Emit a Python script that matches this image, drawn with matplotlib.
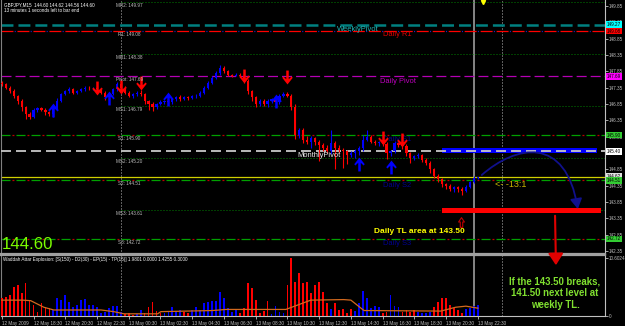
import matplotlib
matplotlib.use("Agg")
import matplotlib.pyplot as plt
from matplotlib.path import Path
from matplotlib.patches import FancyArrowPatch, Rectangle
import numpy as np

plt.rcParams['font.family'] = ['Liberation Sans', 'DejaVu Sans']
plt.rcParams['lines.scale_dashes'] = False

W, H = 625, 326

# ---- values ----
symbol_info = "GBPJPY,M15  144.60 144.62 144.56 144.60"
timer_info = "13 minutes 1 seconds left to bar end"
last_price = "144.60"

first_open = 147.50
close = [147.45, 147.35, 147.25, 147.10, 146.95, 146.75, 146.55, 146.45, 146.65, 146.72,
         146.68, 146.60, 146.55, 146.70, 146.95, 147.15, 147.25, 147.30, 147.20, 147.25,
         147.30, 147.35, 147.33, 147.35, 147.30, 147.20, 147.05, 147.15, 147.30, 147.45,
         147.35, 147.20, 147.10, 147.15, 147.20, 147.15, 146.95, 146.85, 146.75, 146.85,
         146.90, 146.95, 146.90, 147.00, 147.05, 147.00, 147.05, 147.02, 147.08, 147.10,
         147.20, 147.35, 147.50, 147.65, 147.80, 147.95, 147.85, 147.75, 147.72, 147.75,
         147.70, 147.55, 147.25, 147.05, 146.85, 146.95, 146.85, 146.95, 147.00, 146.90,
         147.10, 147.15, 147.10, 146.75, 145.90, 146.05, 145.75, 145.70, 145.80, 145.70,
         145.60, 145.50, 145.40, 145.65, 145.50, 145.45, 145.40, 145.30, 145.35, 145.40,
         145.50, 145.75, 145.85, 145.70, 145.65, 145.68, 145.62, 145.35, 145.40, 145.65,
         145.60, 145.55, 145.35, 145.20, 145.25, 145.30, 145.15, 145.05, 144.85, 144.65,
         144.55, 144.40, 144.35, 144.25, 144.30, 144.25, 144.20, 144.32, 144.45, 144.60,
         144.60]
# wick lengths in pips above / below the body
wick_up = [4, 4, 6, 5, 3, 5, 4, 6, 8, 5,
           4, 5, 3, 6, 8, 5, 4, 6, 5, 3,
           4, 5, 4, 3, 6, 5, 4, 3, 5, 6,
           4, 5, 4, 3, 5, 8, 4, 3, 5, 4,
           6, 3, 5, 4, 3, 6, 4, 5, 3, 4,
           5, 6, 4, 5, 6, 8, 5, 4, 3, 5,
           4, 6, 5, 3, 4, 6, 5, 4, 3, 5,
           4, 6, 8, 5, 10, 6, 5, 12, 6, 4,
           5, 6, 8, 40, 6, 10, 5, 4, 6, 8,
           6, 15, 20, 6, 4, 5, 6, 8, 5, 6,
           5, 4, 6, 4, 5, 4, 3, 5, 6, 4,
           5, 4, 3, 5, 4, 3, 5, 4, 3, 5,
           2]
wick_dn = [5, 5, 6, 8, 10, 12, 15, 5, 4, 6,
           5, 8, 6, 10, 4, 5, 3, 6, 5, 4,
           3, 5, 6, 4, 5, 6, 8, 4, 3, 5,
           6, 5, 4, 6, 5, 6, 10, 20, 12, 6,
           4, 5, 6, 4, 5, 6, 4, 5, 3, 4,
           3, 4, 5, 3, 4, 5, 6, 5, 4, 3,
           4, 5, 10, 12, 8, 6, 5, 8, 6, 10,
           4, 5, 4, 10, 12, 8, 10, 6, 20, 10,
           50, 10, 6, 8, 65, 10, 50, 30, 8, 15,
           12, 8, 4, 5, 6, 8, 6, 18, 10, 5,
           6, 8, 10, 15, 6, 5, 8, 6, 10, 8,
           10, 8, 10, 6, 8, 10, 12, 5, 4, 3,
           4]

sell_bars = [24, 30, 35, 61, 72, 96, 101]
sell_price = [147.34, 147.37, 147.49, 147.71, 147.68, 145.81, 145.75]
buy_bars = [13, 27, 42, 69, 90, 98]
buy_price = [146.67, 147.03, 147.00, 146.94, 145.01, 144.92]

# Waddah Attar Explosion: + trend up (blue), - trend down (red)
wae = [-3.3, -3.5, -3.8, -5.3, -5.7, -4.2, -6.0, -2.9, -2.0, -0.7,
       -2.4, -1.6, -1.5, 1.1, 3.3, 2.9, 3.8, 2.6, 1.6, 2.0,
       2.9, 3.1, 2.0, 2.0, 1.6, 0.5, 0.7, 1.5, 1.8, 1.8,
       0.7, -0.4, -0.5, -0.2, 0.4, 1.1, -0.5, -1.6, -2.6, -0.9,
       -0.5, 0.5, 0.7, 1.6, 0.9, 1.1, -0.7, -0.5, 1.1, 1.6,
       1.1, 2.4, 2.6, 2.7, 2.7, 4.4, 3.3, 1.5, 0.7, 1.1,
       -0.5, -1.5, -6.0, -5.1, -2.9, -0.5, -0.9, -2.7, 0.4, 1.8,
       0.7, 0.5, -5.7, -10.6, -6.2, -7.9, -6.0, -6.2, -4.2, -5.7,
       -6.2, -4.4, -2.4, 1.3, -2.4, -1.1, -1.3, -0.5, -1.3, 0.9,
       2.4, 4.6, 3.3, 1.5, 1.8, 1.6, -0.5, -0.7, 3.8, 1.8,
       1.6, -0.7, -1.1, -0.7, -1.1, 0.7, 0.5, 0.5, 0.7, -1.6,
       -2.6, -3.3, -3.3, -2.0, -1.5, -1.1, -0.5, 1.3, 1.5, 1.8,
       1.98]
wae_line_bar = [0, 5.3, 7.3, 10.6, 13.1, 25, 28.2, 30.8, 39.3, 40.1, 53.2, 56.5,
                71.6, 77.9, 86.2, 88, 91.3, 110.7, 114.4, 117, 120]
wae_line_val = [2.9, 2.9, 2.8, 1.6, 1.1, 1.1, 0.8, 0.4, 0.4, 0.8, 1.0, 1.2,
                1.2, 2.9, 3.0, 2.9, 1.0, 0.9, 1.6, 1.8, 1.43]
wae_title = ("Waddah Attar Explosion: [S(150) - D2(30) - EP(15) - TP(15)] "
             "1.9801 0.0000 1.4255 0.3000")

time_labels = ['12 May 2009', '12 May 18:30', '12 May 20:30', '12 May 22:30',
               '13 May 00:30', '13 May 02:30', '13 May 04:30', '13 May 06:30',
               '13 May 08:30', '13 May 10:30', '13 May 12:30', '13 May 14:30',
               '13 May 16:30', '13 May 18:30', '13 May 20:30', '13 May 22:30']
price_ticks = [149.85, 149.35, 148.85, 148.35, 147.85, 147.35, 146.85, 146.35,
               145.85, 145.35, 144.85, 144.35, 143.85, 143.35, 142.85, 142.35]

# daily pivots and their midpoints
mid_levels = {'MR2': 149.97, 'MR1': 148.38, 'MS1': 146.79, 'MS2': 145.20, 'MS3': 143.61}
daily_levels = {'R1': 149.08, 'Pivot': 147.69, 'S1': 145.90, 'S2': 144.51, 'S3': 142.72}
weekly_pivot = 149.27
monthly_pivot = 145.40
ask_price = 144.62


def fx(x):
    return x / W


def fy(y):
    return 1 - y / H


fig = plt.figure(figsize=(W / 100, H / 100), dpi=100, facecolor='black')
ax = fig.add_axes([fx(1), fy(254), 604 / W, 254 / H], facecolor='black')
ax2 = fig.add_axes([fx(1), fy(316), 604 / W, 61 / H], facecolor='black')

XMIN, XMAX = -0.2, 152.06
ax.set_xlim(XMIN, XMAX)
ax2.set_xlim(XMIN, XMAX)
ax.set_ylim(142.26, 150.03)
ax2.set_ylim(0, 11.15)

grey = '#c0c0c0'
for a in (ax, ax2):
    for s in a.spines.values():
        s.set_color(grey)
        s.set_linewidth(0.8)
ax.spines['top'].set_visible(False)
ax.spines['left'].set_color('#808080')
ax2.spines['left'].set_color('#808080')
ax.spines['bottom'].set_color('#a0a0a0')
ax.spines['bottom'].set_linewidth(1.6)
ax2.spines['top'].set_color('#a0a0a0')
ax2.spines['top'].set_linewidth(1.6)

# ---- horizontal levels ----
xs_full = [XMIN, XMAX]
ax.plot(xs_full, [weekly_pivot] * 2, color='#008080', lw=1.8, ls=(0, (8.6, 3.6)), zorder=2)
ax.plot(xs_full, [daily_levels['R1']] * 2, color='#ff0000', lw=0.9, ls=(0, (8.6, 2.9)), zorder=2)
ax.plot(xs_full, [daily_levels['R1']] * 2, color='#2020c0', lw=0.9, ls=(-9.5, (0.8, 10.7)), zorder=2)
ax.plot(xs_full, [daily_levels['Pivot']] * 2, color='#b400b4', lw=0.9, ls=(0, (7.2, 2.9)), zorder=2)
for k in ('S1', 'S2', 'S3'):
    ax.plot(xs_full, [daily_levels[k]] * 2, color='#00a000', lw=0.9, ls=(0, (6.5, 4.3)), zorder=2)
    ax.plot(xs_full, [daily_levels[k]] * 2, color='#c00000', lw=0.9, ls=(-7.9, (1.4, 9.4)), zorder=2)
for k, v in mid_levels.items():
    ax.plot([30, XMAX], [v, v], color='#008000', lw=0.7, ls=(0, (0.72, 1.44)), zorder=2)
ax.plot(xs_full, [ask_price] * 2, color='#d0d000', lw=0.9, zorder=2)

# blue band around the monthly pivot, then the pivot line itself
ax.add_patch(Rectangle((111.0, 145.35), 39.0, 0.15, color='#0000ff', lw=0, zorder=3))
ax.plot(xs_full, [monthly_pivot] * 2, color='#c8c8c8', lw=1.3, ls=(0, (7.2, 3.6)), zorder=4)

# vertical lines
for a in (ax, ax2):
    a.axvline(30, color=grey, lw=0.7, ls=(0, (0.72, 1.44)), zorder=1)
    a.axvline(119, color='#909090', lw=1.3, zorder=1)
    a.axvline(126.1, color=grey, lw=0.7, ls=(0, (0.72, 1.44)), zorder=1)

# ---- candles ----
c = np.array(close)
o = np.r_[first_open, c[:-1]]
hi = np.maximum(o, c) + np.array(wick_up) / 100
lo = np.minimum(o, c) - np.array(wick_dn) / 100
xs = np.arange(len(c))
up = c >= o
for mask, col in ((up, '#0000ff'), (~up, '#ff0000')):
    ax.vlines(xs[mask], lo[mask], hi[mask], color=col, lw=0.8, zorder=5)
    ax.bar(xs[mask], np.maximum(np.abs(c - o), 0.02)[mask], bottom=np.minimum(o, c)[mask],
           width=0.55, color=col, lw=0, zorder=5)

# signal arrows
dn_arrow = Path([(-0.18, 1), (0.18, 1), (0.18, -0.25), (0.6, 0.15), (0.75, -0.05),
                 (0, -1), (-0.75, -0.05), (-0.6, 0.15), (-0.18, -0.25), (-0.18, 1)])
up_arrow = Path([(x, -y) for x, y in dn_arrow.vertices])
ax.plot(sell_bars, sell_price, ls='none', marker=dn_arrow, ms=10, color='#ff0000', mew=0, zorder=6)
ax.plot(buy_bars, buy_price, ls='none', marker=up_arrow, ms=10, color='#0000ff', mew=0, zorder=6)

# ---- level labels ----
small = 3.3
for k, v in mid_levels.items():
    ax.text(32.2, v - 0.105, f'{k}: {v:.2f}', color=grey, fontsize=small,
            ha='center', va='center', zorder=7)
for k, v in daily_levels.items():
    ax.text(32.2, v - 0.105, f'{k}: {v:.2f}', color=grey, fontsize=small,
            ha='center', va='center', zorder=7)

mid = 5.4
ax.text(84.5, weekly_pivot - 0.15, 'WeeklyPivot', color='#20b8b8', fontsize=mid, va='center', zorder=7)
ax.text(96.1, daily_levels['R1'] - 0.12, 'Daily R1', color='#e00000', fontsize=mid, va='center', zorder=7)
ax.text(95.3, daily_levels['Pivot'] - 0.15, 'Daily Pivot', color='#c000c0', fontsize=mid, va='center', zorder=7)
ax.text(74.4, monthly_pivot - 0.12, 'MonthlyPivot', color='#e8e8e8', fontsize=mid, va='center', zorder=7)
for k in ('S1', 'S2', 'S3'):
    ax.text(96.1, daily_levels[k] - 0.14, 'Daily ' + k, color='#000090', fontsize=mid,
            va='center', zorder=4)

# ---- annotations ----
ax.add_patch(Rectangle((111.0, 143.51), 40.0, 0.16, color='#ff0000', lw=0, zorder=6))
ax.plot([115.8], [143.24], ls='none', marker=Path([(-0.25, -1), (0.25, -1), (0.25, 0.1), (0.6, 0.1),
                                                   (0, 1), (-0.6, 0.1), (-0.25, 0.1), (-0.25, -1)]),
        ms=7, mfc='none', mec='#c00000', mew=0.8, zorder=6)
ax.text(93.8, 142.96, 'Daily TL area at 143.50', color='#ffff00', fontsize=6,
        fontweight='bold', va='center', zorder=7)
ax.text(124.3, 144.40, '<- -13:1', color='#c8b400', fontsize=6.5, va='center', zorder=7)
ax.plot([121.3], [149.98], ls='none', marker='v', ms=3, color='#ffff00', clip_on=False, zorder=8)

curve = Path([(121.0, 144.677), (129.6, 145.595), (142.2, 145.901), (145.2, 143.636)],
             [Path.MOVETO, Path.CURVE4, Path.CURVE4, Path.CURVE4])
ax.add_patch(FancyArrowPatch(path=curve, arrowstyle='-|>,head_length=0.6,head_width=0.35',
                             mutation_scale=10, color='#10108c', lw=1.3, zorder=7))

fig.add_artist(FancyArrowPatch((fx(555), fy(213)), (fx(556), fy(268)),
                               transform=fig.transFigure,
                               arrowstyle='-|>,head_length=0.7,head_width=0.45',
                               mutation_scale=10, color='#e00000', lw=1.5, zorder=9))
fig.text(fx(555), fy(293), 'If the 143.50 breaks,\n141.50 next level at\nweekly TL.',
         color='#80e030', fontsize=6.9, fontweight='bold', ha='center', va='center',
         linespacing=1.2, zorder=9)

# header and big price
fig.text(fx(4), fy(5), symbol_info, color='white', fontsize=small, va='center')
fig.text(fx(4), fy(11), timer_info, color='white', fontsize=small, va='center')
fig.text(fx(2), fy(249), last_price, color='#7cfc00', fontsize=12.1, va='baseline')

# ---- right price axis ----
ax.xaxis.set_visible(False)
ax.yaxis.tick_right()
ax.set_yticks(price_ticks)
ax.set_yticklabels([f'{p:.2f}' for p in price_ticks])
ax.tick_params(axis='y', colors=grey, length=2, width=0.6, labelsize=small, pad=1)


def tag(price, text, fc):
    ax.text(1.0025, price, text, transform=ax.get_yaxis_transform(), ha='left', va='center',
            fontsize=small, color='black', zorder=10, clip_on=False,
            bbox=dict(boxstyle='square,pad=0.2', fc=fc, ec='none'))


tag(weekly_pivot, f'{weekly_pivot:.2f}', '#00ffff')
tag(daily_levels['R1'], f"{daily_levels['R1']:.2f}", '#ff0000')
tag(daily_levels['Pivot'], f"{daily_levels['Pivot']:.2f}", '#ff00ff')
tag(daily_levels['S1'], f"{daily_levels['S1']:.2f}", '#33cc33')
tag(monthly_pivot, f'{monthly_pivot:.2f}', '#ffffff')
tag(ask_price, f'{ask_price:.2f}', '#e0e0e0')
tag(daily_levels['S2'], f"{daily_levels['S2']:.2f}", '#33cc33')
tag(daily_levels['S3'], f"{daily_levels['S3']:.2f}", '#33cc33')

# ---- indicator panel ----
w = np.array(wae)
ax2.bar(xs, np.clip(w, 0, None), width=0.45, color='#0000ff', lw=0, zorder=3)
ax2.bar(xs, np.clip(-w, 0, None), width=0.45, color='#ff0000', lw=0, zorder=3)
ax2.plot(wae_line_bar, wae_line_val, color='#d2691e', lw=0.9, zorder=4)
ax2.text(0.004, 0.93, wae_title, transform=ax2.transAxes, color='white', fontsize=small,
         va='center', zorder=5)
ax2.yaxis.tick_right()
ax2.set_yticks([0, 10.6024])
ax2.set_yticklabels(['0', '10.6024'])
ax2.tick_params(axis='y', colors=grey, length=2, width=0.6, labelsize=small, pad=1)
ax2.set_xticks(range(0, 121, 8))
ax2.set_xticklabels(time_labels)
for lab in ax2.get_xticklabels():
    lab.set_horizontalalignment('left')
ax2.tick_params(axis='x', colors=grey, length=2, width=0.6, labelsize=small, pad=1.5)

fig.savefig('out.png', dpi=100, facecolor='black')
